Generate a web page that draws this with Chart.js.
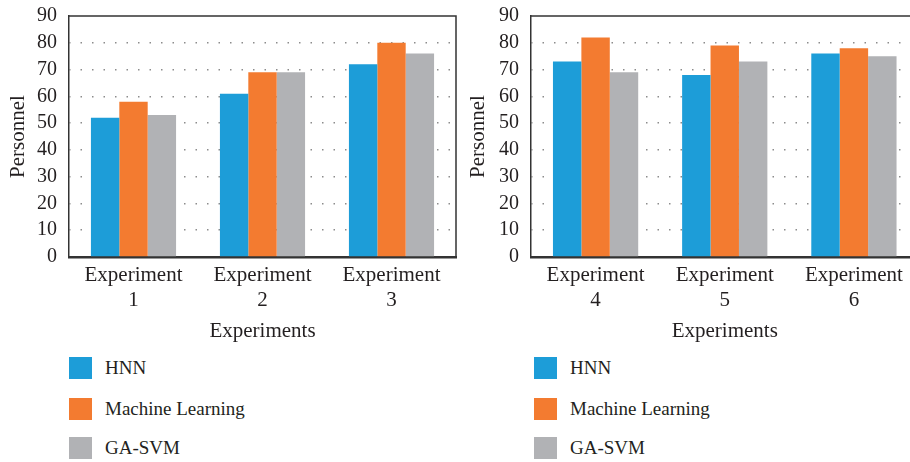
<!DOCTYPE html>
<html>
<head>
<meta charset="utf-8">
<script src="https://cdn.jsdelivr.net/npm/chart.js@4/dist/chart.umd.min.js"></script>
<style>
  html, body { margin: 0; padding: 0; background: #ffffff; }
  body { position: relative; width: 910px; height: 462px; overflow: hidden; }
  .panel { position: absolute; top: 0; }
  .legend { position: absolute; top: 0; font-family: "Liberation Serif", "DejaVu Serif", serif; font-size: 19px; color: #231f20; }
  .legend .item { position: absolute; left: 0; height: 22px; white-space: nowrap; }
  .legend .swatch { position: absolute; left: 0; top: 0; width: 23px; height: 22px; }
  .legend .label { position: absolute; left: 36px; top: 0; line-height: 22px; }
</style>
</head>
<body>
<canvas id="left" class="panel" width="460" height="350" style="left:0px"></canvas>
<canvas id="right" class="panel" width="460" height="350" style="left:460px"></canvas>
<div id="legendLeft" class="legend" style="left:69px"></div>
<div id="legendRight" class="legend" style="left:534px"></div>

<script>
// Experiment groups (two lines per category label)
const groupsLeft = [["Experiment", "1"], ["Experiment", "2"], ["Experiment", "3"]];
const groupsRight = [["Experiment", "4"], ["Experiment", "5"], ["Experiment", "6"]];

// Method names and their colours
const seriesNames = ["HNN", "Machine Learning", "GA-SVM"];
const seriesColors = ["#1d9dd8", "#f37b30", "#b1b2b5"];

// Personnel per experiment, one array per method
const hnnLeft = [52, 61, 72];
const mlLeft = [58, 69, 80];
const gasvmLeft = [53, 69, 76];

const hnnRight = [73, 68, 76];
const mlRight = [82, 79, 78];
const gasvmRight = [69, 73, 75];

// Value axis
const yMin = 0;
const yMax = 90;
const yStep = 10;

const axisTitleX = "Experiments";
const axisTitleY = "Personnel";

const FONT = '"Liberation Serif", "DejaVu Serif", serif';
const INK = "#231f20";
const FRAME = "#333333";
const CLEAR = "rgba(0,0,0,0)";

// Thin frame on the top and right edges of the plot area
const framePlugin = {
  id: "frame",
  afterDraw(chart) {
    const { ctx, chartArea: a } = chart;
    ctx.save();
    ctx.strokeStyle = FRAME;
    ctx.lineWidth = 1.5;
    ctx.beginPath();
    ctx.moveTo(a.left, a.top);
    ctx.lineTo(a.right, a.top);
    ctx.lineTo(a.right, a.bottom);
    ctx.stroke();
    ctx.restore();
  }
};

function makeChart(id, groups, values, yAxisWidth, rightPad) {
  return new Chart(document.getElementById(id), {
    type: "bar",
    data: {
      labels: groups,
      datasets: values.map((v, i) => ({
        label: seriesNames[i],
        data: v,
        backgroundColor: seriesColors[i],
        borderWidth: 0,
        categoryPercentage: 0.66,
        barPercentage: 1.0
      }))
    },
    options: {
      responsive: false,
      animation: false,
      events: [],
      layout: { padding: { top: 16, left: 0, right: rightPad, bottom: 6 } },
      plugins: {
        legend: { display: false },
        tooltip: { enabled: false }
      },
      scales: {
        x: {
          ticks: {
            color: INK,
            font: { family: FONT, size: 21, lineHeight: 1.2 },
            padding: 5.4,
            maxRotation: 0,
            autoSkip: false
          },
          grid: { color: CLEAR, drawTicks: false },
          border: { display: true, color: FRAME, width: 2.5 },
          title: {
            display: true,
            text: axisTitleX,
            color: INK,
            font: { family: FONT, size: 21, lineHeight: 1.2 },
            padding: 0
          },
          afterFit(scale) { scale.height = 87; }
        },
        y: {
          min: yMin,
          max: yMax,
          ticks: {
            stepSize: yStep,
            autoSkip: false,
            color: INK,
            font: { family: FONT, size: 20, lineHeight: 1.2 },
            padding: 0
          },
          grid: {
            drawTicks: true,
            tickLength: 12,
            tickColor: CLEAR,
            lineWidth: 1.5,
            color: (c) => (c.tick && (c.tick.value === yMin || c.tick.value === yMax)) ? CLEAR : "#8c8c8c"
          },
          border: { display: true, color: FRAME, width: 1.5, dash: [1.5, 10], dashOffset: 0.5 },
          title: {
            display: true,
            text: axisTitleY,
            color: INK,
            font: { family: FONT, size: 21, lineHeight: 1.2 },
            padding: { top: 6, bottom: 0 }
          },
          afterFit(scale) { scale.width = yAxisWidth; }
        }
      }
    },
    plugins: [framePlugin]
  });
}

makeChart("left", groupsLeft, [hnnLeft, mlLeft, gasvmLeft], 69, 4);
makeChart("right", groupsRight, [hnnRight, mlRight, gasvmRight], 71, 1.5);

// Vertical legend lists under each panel
const legendRows = [357, 398, 437];
function buildLegend(id) {
  const host = document.getElementById(id);
  seriesNames.forEach((name, i) => {
    const item = document.createElement("div");
    item.className = "item";
    item.style.top = legendRows[i] + "px";
    const sw = document.createElement("span");
    sw.className = "swatch";
    sw.style.background = seriesColors[i];
    const tx = document.createElement("span");
    tx.className = "label";
    tx.textContent = name;
    item.appendChild(sw);
    item.appendChild(tx);
    host.appendChild(item);
  });
}
buildLegend("legendLeft");
buildLegend("legendRight");
</script>
</body>
</html>
